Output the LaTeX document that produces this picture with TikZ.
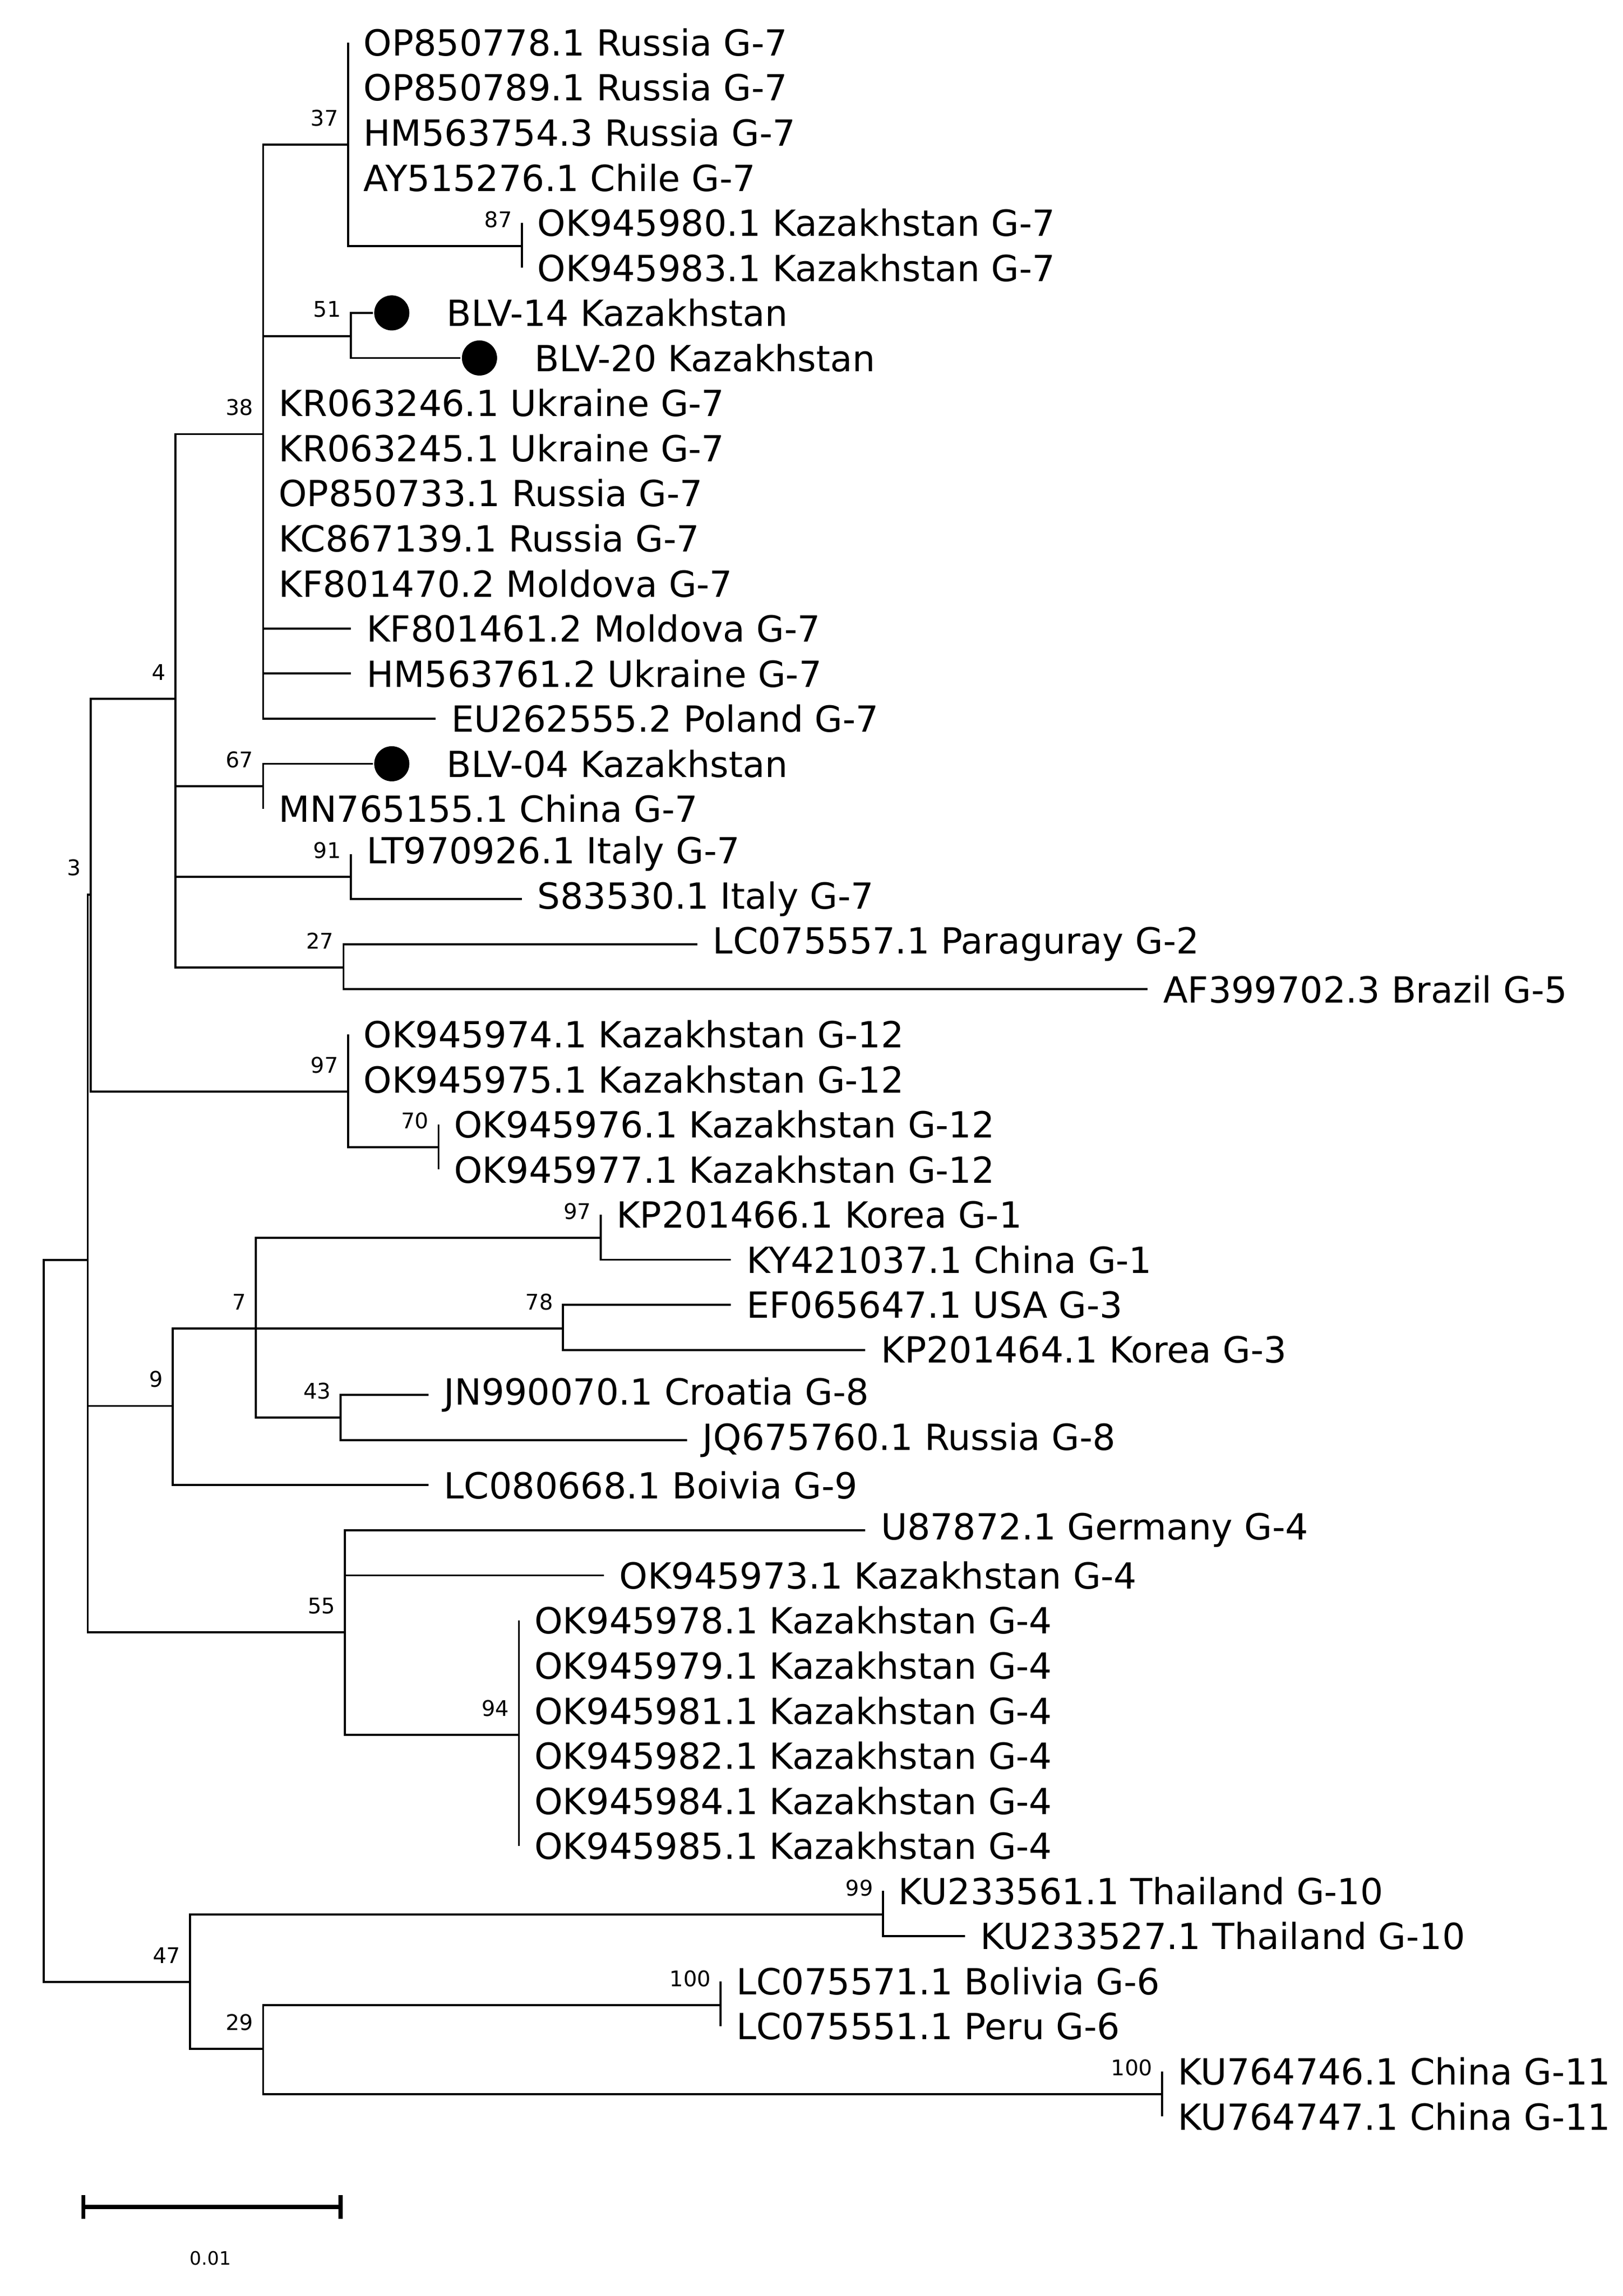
\documentclass[tikz,border=0pt]{standalone}
\usepackage{fontspec}
\setmainfont{DejaVu Sans}
\begin{document}
\begin{tikzpicture}[x=0.025cm,y=-0.025cm,line width=1pt,
  lab/.style={anchor=west,inner sep=0pt,font=\fontsize{17.5}{20}\selectfont},
  bs/.style={anchor=south east,inner sep=0pt,xshift=-0.15cm,yshift=0.3cm,font=\fontsize{10.5}{12}\selectfont},
  dotm/.style={circle,fill=black,inner sep=0pt,minimum size=0.6cm}]
\useasboundingbox (0,0) rectangle (1110,1571);
\def\r#1{{29+30.85*#1}}
% internal nodes
\coordinate (root) at (30,1109);
\coordinate (NA) at (60,862);
\coordinate (N3) at (62,612);
\coordinate (N4) at (120,478);
\coordinate (N38) at (180,297);
\coordinate (N37) at (238,99);
\coordinate (N87) at (357,168.5);
\coordinate (N51) at (240,230);
\coordinate (N67) at (180,538);
\coordinate (N91) at (240,600);
\coordinate (N27) at (235,662);
\coordinate (N97) at (238,747);
\coordinate (N70) at (300,785);
\coordinate (N9) at (118,962);
\coordinate (N7) at (175,909);
\coordinate (N97b) at (411,847);
\coordinate (N78) at (385,909);
\coordinate (N43) at (233,970);
\coordinate (N55) at (236,1117);
\coordinate (N94) at (355,1187);
\coordinate (N47) at (130,1356);
\coordinate (N99) at (604,1310);
\coordinate (N29) at (180,1402);
\coordinate (N100) at (493,1372);
\coordinate (N100b) at (795,1433);
% tips
\foreach \i/\x/\t in {
0/238/OP850778.1 Russia G-7, 1/238/OP850789.1 Russia G-7, 2/238/HM563754.3 Russia G-7, 3/238/AY515276.1 Chile G-7,
4/357/OK945980.1 Kazakhstan G-7, 5/357/OK945983.1 Kazakhstan G-7,
8/180/KR063246.1 Ukraine G-7, 9/180/KR063245.1 Ukraine G-7, 10/180/OP850733.1 Russia G-7, 11/180/KC867139.1 Russia G-7, 12/180/KF801470.2 Moldova G-7,
13/240/KF801461.2 Moldova G-7, 14/240/HM563761.2 Ukraine G-7, 15/298/EU262555.2 Poland G-7,
17/180/MN765155.1 China G-7, 18/240/LT970926.1 Italy G-7, 19/357/S83530.1 Italy G-7,
20/477/LC075557.1 Paraguray G-2, 21/785/AF399702.3 Brazil G-5,
22/238/OK945974.1 Kazakhstan G-12, 23/238/OK945975.1 Kazakhstan G-12, 24/300/OK945976.1 Kazakhstan G-12, 25/300/OK945977.1 Kazakhstan G-12,
26/411/KP201466.1 Korea G-1, 27/500/KY421037.1 China G-1, 28/500/EF065647.1 USA G-3, 29/592/KP201464.1 Korea G-3,
30/293/JN990070.1 Croatia G-8, 31/470/JQ675760.1 Russia G-8, 32/293/LC080668.1 Boivia G-9,
33/592/U87872.1 Germany G-4, 34/413/OK945973.1 Kazakhstan G-4,
35/355/OK945978.1 Kazakhstan G-4, 36/355/OK945979.1 Kazakhstan G-4, 37/355/OK945981.1 Kazakhstan G-4, 38/355/OK945982.1 Kazakhstan G-4, 39/355/OK945984.1 Kazakhstan G-4, 40/355/OK945985.1 Kazakhstan G-4,
41/604/KU233561.1 Thailand G-10, 42/660/KU233527.1 Thailand G-10, 43/493/LC075571.1 Bolivia G-6, 44/493/LC075551.1 Peru G-6,
45/795/KU764746.1 China G-11, 46/795/KU764747.1 China G-11}
{\coordinate (t\i) at (\x,\r{\i}); \node[lab] (L\i) at (\x+10,\r{\i}) {\t};}
\foreach \i/\x/\t in {6/255/BLV-14 Kazakhstan, 7/315/BLV-20 Kazakhstan, 16/255/BLV-04 Kazakhstan}
{\coordinate (t\i) at (\x,\r{\i}); \node[dotm] (D\i) at (\x+13,\r{\i}) {}; \node[lab] (L\i) at (\x+50,\r{\i}) {\t};}
% edges
\foreach \p/\c in {root/NA,root/N47,NA/N3,NA/N9,NA/N55,N3/N4,N3/N97,
N4/N38,N4/N67,N4/N91,N4/N27,N38/N37,N38/N51,N37/N87,
N37/t0,N37/t1,N37/t2,N37/t3,N87/t4,N87/t5,N51/t6,N51/t7,
N38/t8,N38/t9,N38/t10,N38/t11,N38/t12,N38/t13,N38/t14,N38/t15,
N67/t16,N67/t17,N91/t18,N91/t19,N27/t20,N27/t21,
N97/t22,N97/t23,N97/N70,N70/t24,N70/t25,
N9/N7,N9/t32,N7/N97b,N7/N78,N7/N43,N97b/t26,N97b/t27,N78/t28,N78/t29,N43/t30,N43/t31,
N55/t33,N55/t34,N55/N94,N94/t35,N94/t36,N94/t37,N94/t38,N94/t39,N94/t40,
N47/N99,N47/N29,N99/t41,N99/t42,N29/N100,N29/N100b,N100/t43,N100/t44,N100b/t45,N100b/t46}
{\draw (\p) |- (\c);}
% bootstrap values
\foreach \n/\v in {N37/37,N87/87,N51/51,N38/38,N4/4,N67/67,N91/91,N27/27,N97/97,N70/70,N3/3,N97b/97,N78/78,N7/7,N43/43,N9/9,N55/55,N94/94,N99/99,N47/47,N100/100,N29/29,N100b/100}
{\path (\n) node[bs] {\v};}
% scale bar
\coordinate (s1) at (57,1510); \coordinate (s2) at (233,1510);
\draw[line width=2pt] (s1) -- (s2);
\draw[line width=2pt] (57,1502) -- (57,1518) (233,1502) -- (233,1518);
\node[font=\fontsize{9}{10}\selectfont] (sl) at (144,1545) {0.01};
\end{tikzpicture}
\end{document}
